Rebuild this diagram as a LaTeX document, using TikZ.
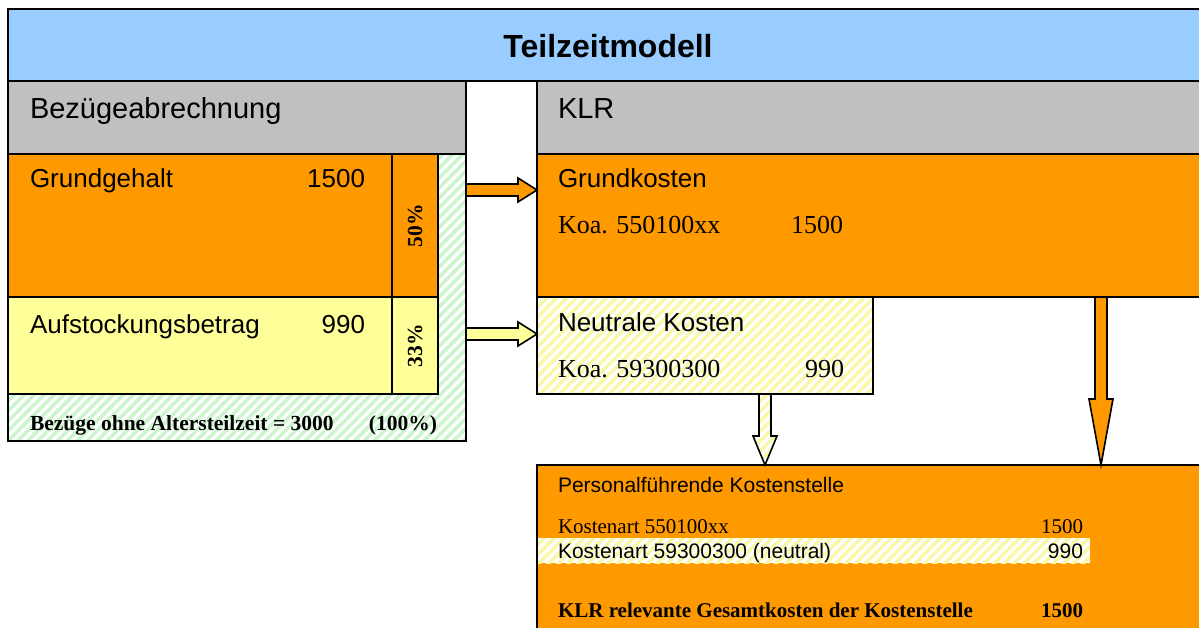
\documentclass[tikz,border=0pt]{standalone}
\usepackage{fontspec}
\setmainfont{Liberation Sans}
\newfontfamily\tmfont{Liberation Serif}
\usetikzlibrary{calc,patterns.meta}

\definecolor{titleblue}{HTML}{99CCFF}
\definecolor{headgray}{HTML}{C0C0C0}
\definecolor{kostorange}{HTML}{FF9900}
\definecolor{paleyellow}{HTML}{FFFF99}
\definecolor{stripegreen}{HTML}{CCF5CC}
\definecolor{stripeyellow}{HTML}{F8F8A8}

% horizontal block arrow: style, tail, tip, head length
\newcommand\blockarrowH[4]{\draw[#1] ($(#2)+(0,-6)$) -- ($(#3)+(-#4,-6)$) -- ($(#3)+(-#4,-12)$) -- (#3)
  -- ($(#3)+(-#4,12)$) -- ($(#3)+(-#4,6)$) -- ($(#2)+(0,6)$) -- cycle;}
% vertical block arrow (downwards): style, tail, tip, head length
\newcommand\blockarrowV[4]{\draw[#1] ($(#2)+(-6,0)$) -- ($(#3)+(-6,-#4)$) -- ($(#3)+(-12,-#4)$) -- (#3)
  -- ($(#3)+(12,-#4)$) -- ($(#3)+(6,-#4)$) -- ($(#2)+(6,0)$) -- cycle;}

\tikzset{
  box/.style={draw=black, line width=1.6pt, anchor=north west, inner sep=0pt, outer sep=0pt},
  greenhatch/.style={preaction={fill=white}, pattern={Lines[angle=45,distance=7pt,line width=3.5pt]}, pattern color=stripegreen},
  yellowhatch/.style={preaction={fill=white}, pattern={Lines[angle=45,distance=7pt,line width=3.5pt]}, pattern color=stripeyellow},
  arrowline/.style={draw=black, line width=1.6pt, line join=miter},
  txt/.style={inner sep=0pt, outer sep=0pt, text=black},
  titletxt/.style={txt, font=\bfseries\fontsize{32}{36}\selectfont},
  headtxt/.style={txt, font=\fontsize{29}{33}\selectfont},
  bigsans/.style={txt, font=\fontsize{26}{30}\selectfont},
  bigserif/.style={txt, font=\tmfont\fontsize{26}{30}\selectfont},
  pctxt/.style={txt, font=\tmfont\bfseries\fontsize{21.5}{24}\selectfont},
  smallsans/.style={txt, font=\fontsize{21}{24}\selectfont},
  smallserif/.style={txt, font=\tmfont\fontsize{21}{24}\selectfont},
  smallbold/.style={txt, font=\tmfont\bfseries\fontsize{21}{24}\selectfont},
}

\begin{document}
\begin{tikzpicture}[x=1pt, y=-1pt]
\useasboundingbox (0,0) rectangle (1199,627);
\clip (0,0) rectangle (1199,627);

% title band and column headers
\node[box, fill=titleblue, minimum width=1300pt, minimum height=72pt] (title) at (8,9) {};
\node[box, fill=headgray, minimum width=458pt, minimum height=73pt] (bezhead) at (8,81) {};
\node[box, fill=headgray, minimum width=800pt, minimum height=73pt] (klrhead) at (537,81) {};

% payroll side
\node[box, greenhatch, minimum width=458pt, minimum height=287pt] (lbox) at (8,154) {};
\node[box, fill=kostorange, minimum width=384pt, minimum height=143pt] (grund) at (8,154) {};
\node[box, fill=kostorange, minimum width=46pt, minimum height=143pt] (gpct) at (392,154) {};
\node[box, fill=paleyellow, minimum width=384pt, minimum height=97pt] (aufst) at (8,297) {};
\node[box, fill=paleyellow, minimum width=46pt, minimum height=97pt] (apct) at (392,297) {};

% cost accounting side
\node[box, fill=kostorange, minimum width=800pt, minimum height=143pt] (gkost) at (537,154) {};
\node[box, yellowhatch, minimum width=336pt, minimum height=97pt] (nkost) at (537,297) {};
\node[box, fill=kostorange, minimum width=800pt, minimum height=300pt] (pks) at (537,465) {};
\node[anchor=north west, inner sep=0pt, outer sep=0pt, draw=none, yellowhatch,
      minimum width=552pt, minimum height=25pt] (strip) at (538,538) {};

% block arrows
\coordinate (ga) at (lbox.east |- 0,190);
\coordinate (ya) at (lbox.east |- 0,334);
\coordinate (nd) at (765,0 |- nkost.south);
\coordinate (gd) at (1101,0 |- gkost.south);
\blockarrowH{arrowline, fill=kostorange}{ga}{gkost.west |- ga}{19}
\blockarrowH{arrowline, fill=paleyellow}{ya}{nkost.west |- ya}{19}
\blockarrowV{arrowline, yellowhatch}{nd}{nd |- pks.north}{29}
\blockarrowV{arrowline, fill=kostorange}{gd}{gd |- pks.north}{66}

% texts
\node[titletxt, anchor=base] (ttitle) at (608,57) {Teilzeitmodell};
\node[headtxt, anchor=base west] (tbez) at (30,118) {Bezügeabrechnung};
\node[headtxt, anchor=base west] (tklr) at (558,118) {KLR};

\node[bigsans, anchor=base west] (tgg) at (30,187) {Grundgehalt};
\node[bigsans, anchor=base east] (tggv) at (365,187) {1500};
\node[bigsans, anchor=base west] (tauf) at (30,333) {Aufstockungsbetrag};
\node[bigsans, anchor=base east] (taufv) at (365,333) {990};
\node[pctxt, rotate=90] (tp50) at (gpct.center) {50\%};
\node[pctxt, rotate=90] (tp33) at (apct.center) {33\%};
\node[smallbold, font=\tmfont\bfseries\fontsize{21.5}{24}\selectfont, anchor=base west] (tsum) at (30,430) {Bezüge ohne Altersteilzeit = 3000};
\node[smallbold, font=\tmfont\bfseries\fontsize{21.5}{24}\selectfont, anchor=base east] (tsump) at (437,430) {(100\%)};

\node[bigsans, anchor=base west] (tgk) at (558,187) {Grundkosten};
\node[bigserif, anchor=base west] (tgkk) at (558,233) {Koa. 550100xx};
\node[bigserif, anchor=base east] (tgkv) at (843,233) {1500};
\node[bigsans, anchor=base west] (tnk) at (558,331) {Neutrale Kosten};
\node[bigserif, anchor=base west] (tnkk) at (558,377) {Koa. 59300300};
\node[bigserif, anchor=base east] (tnkv) at (844,377) {990};

\node[smallsans, anchor=base west] (tpk) at (558,492) {Personalführende Kostenstelle};
\node[smallserif, anchor=base west] (tka1) at (558,533) {Kostenart 550100xx};
\node[smallserif, anchor=base east] (tka1v) at (1083,533) {1500};
\node[smallsans, anchor=base west] (tka2) at (558,558) {Kostenart 59300300 (neutral)};
\node[smallsans, anchor=base east] (tka2v) at (1083,558) {990};
\node[smallbold, anchor=base west] (tklrg) at (558,617) {KLR relevante Gesamtkosten der Kostenstelle};
\node[smallbold, anchor=base east] (tklrgv) at (1083,617) {1500};
\end{tikzpicture}
\end{document}
